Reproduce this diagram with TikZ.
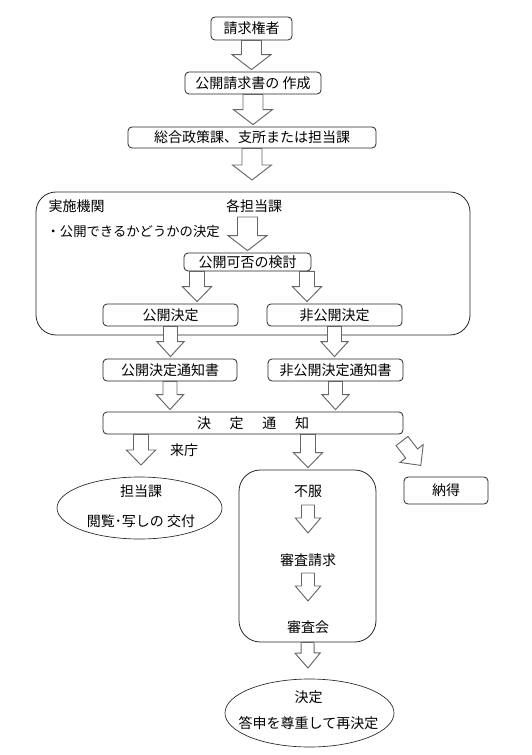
\documentclass[tikz,border=0pt]{standalone}
\usepackage{fontspec}
\setmainfont{Noto Sans CJK JP}
\usetikzlibrary{calc,shapes.geometric}
\tikzset{
  box/.style={draw=black!85,line width=0.6pt,rounded corners=3pt,minimum height=16.5pt,inner sep=0pt},
  groupbox/.style={draw=black!85,line width=0.6pt,rounded corners=15pt,inner sep=0pt},
  oval/.style={draw=black!85,line width=0.5pt,ellipse,inner sep=0pt},
  txt/.style={inner sep=1pt},
  blockarr/.style={draw=black!60,fill=white,line width=0.7pt}
}
\newcommand{\blockarrow}[3][7.5]{%
  \pgfmathsetmacro\bashaft{#1*0.75}%
  \pgfmathsetmacro\bahead{#1*1.95*0.75}%
  \coordinate (ba-s) at (#2);
  \coordinate (ba-e) at (#3);
  \coordinate (ba-t) at ($(ba-e)!1.5pt!(ba-s)$);
  \coordinate (ba-h) at ($(ba-t)!11.25pt!(ba-s)$);
  \draw[blockarr] ($(ba-s)!\bashaft pt!90:(ba-t)$) -- ($(ba-h)!\bashaft pt!-90:(ba-s)$)
    -- ($(ba-h)!\bahead pt!-90:(ba-s)$) -- (ba-t) -- ($(ba-h)!\bahead pt!90:(ba-s)$)
    -- ($(ba-h)!\bashaft pt!90:(ba-s)$) -- ($(ba-s)!\bashaft pt!-90:(ba-t)$) -- cycle;}

\begin{document}
\begin{tikzpicture}[x=0.75pt,y=-0.75pt,every node/.style={font=\fontsize{10.5pt}{12pt}\selectfont}]
  \useasboundingbox (0,0) rectangle (531,755);
  \node[box,minimum width=60.75pt,minimum height=17.25pt] (req) at (251.5,28.5) {請求権者};
  \node[box,minimum width=102pt] (make) at (253,83) {公開請求書の 作成};
  \node[box,minimum width=186pt,minimum height=15.75pt] (dept) at (252,137.5) {総合政策課、支所または担当課};
  \node[groupbox,minimum width=325.5pt,minimum height=107.25pt] (kikan) at (253,263.5) {};
  \node[txt,anchor=west] (kikan-t) at (47,206) {実施機関};
  \node[txt] (kaku) at (254,206) {各担当課};
  \node[txt,anchor=west,font=\fontsize{10pt}{12pt}\selectfont] (kikan-n) at (45,231) {・公開できるかどうかの決定};
  \node[box,minimum width=95.25pt,minimum height=13.5pt] (kk) at (247.5,262) {公開可否の検討};
  \node[box,minimum width=101.25pt] (kd) at (170.5,315) {公開決定};
  \node[box,minimum width=101.25pt] (hkd) at (334.5,315) {非公開決定};
  \node[box,minimum width=100.5pt] (kdn) at (170,370) {公開決定通知書};
  \node[box,minimum width=101.25pt] (hkdn) at (335.5,370) {非公開決定通知書};
  \node[box,minimum width=225pt] (ntc) at (253,423) {決\hspace{14pt}定\hspace{14pt}通\hspace{14pt}知};
  \node[txt] (raicho) at (184,450) {来庁};
  \node[oval,minimum width=123.75pt,minimum height=46.5pt] (etsu) at (139.5,508) {};
  \node[txt] (etsu-a) at (141,491) {担当課};
  \node[txt] (etsu-b) at (141,521) {閲覧･写しの 交付};
  \node[groupbox,rounded corners=16pt,minimum width=102.75pt,minimum height=129pt] (fuku) at (307.5,556) {};
  \node[txt] (fufuku) at (308,491) {不服};
  \node[txt] (seikyu) at (308,560) {審査請求};
  \node[txt] (shinsakai) at (308,627) {審査会};
  \node[box,minimum width=63pt,minimum height=20.25pt] (nattoku) at (446,490.5) {納得};
  \node[oval,minimum width=126.75pt,minimum height=51pt] (kettei) at (309.5,713) {};
  \node[txt] (kettei-a) at (308.5,697) {決定};
  \node[txt] (kettei-b) at (308.5,723) {答申を尊重して再決定};
  \coordinate (dept-tip) at (252,182);
  \coordinate (kaku-s) at (kk.north |- 0,217);
  \coordinate (kk-l) at (197,0 |- kk.south);
  \coordinate (kk-r) at (307,0 |- kk.south);
  \coordinate (ntc-l) at (141,0 |- ntc.south);
  \coordinate (ntc-l-tip) at (141,467);
  \coordinate (ntc-m) at (308,0 |- ntc.south);
  \coordinate (ntc-d) at (402,441);
  \coordinate (ntc-d-tip) at (422,467);
  \coordinate (fk1) at (308,505);
  \coordinate (fk1-tip) at (308,535);
  \coordinate (fk2) at (308,573);
  \coordinate (fk2-tip) at (308,603);
  \coordinate (fuku-tip) at (308,670);
  \blockarrow[10]{req.south}{req.south |- make.north}
  \blockarrow[10]{make.south}{make.south |- dept.north}
  \blockarrow[10]{dept.south}{dept-tip}
  \blockarrow[10]{kaku-s}{kk.north}
  \blockarrow{kk-l}{kk-l |- kd.north}
  \blockarrow{kk-r}{kk-r |- hkd.north}
  \blockarrow[7]{kd.south}{kd.south |- kdn.north}
  \blockarrow[7]{hkd.south}{hkd.south |- hkdn.north}
  \blockarrow[7]{kdn.south}{kdn.south |- ntc.north}
  \blockarrow[7]{hkdn.south}{hkdn.south |- ntc.north}
  \blockarrow{ntc-l}{ntc-l-tip}
  \blockarrow{ntc-m}{ntc-m |- fuku.north}
  \blockarrow{ntc-d}{ntc-d-tip}
  \blockarrow[6.5]{fk1}{fk1-tip}
  \blockarrow[6.5]{fk2}{fk2-tip}
  \blockarrow[6.5]{fuku.south}{fuku-tip}
\end{tikzpicture}
\end{document}
